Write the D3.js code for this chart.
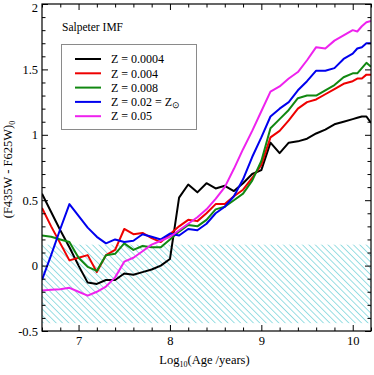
<!DOCTYPE html>
<style>
    body { margin: 0; background: #fff; }
    .axis .domain { display: none; }
    .axis line { stroke: #000; }
</style>
<svg width="374" height="375"></svg>

<script src="https://d3js.org/d3.v7.min.js"></script>
<script>
    // log10(age) grid shared by all curves
    var ages = [6.6, 6.7, 6.8, 6.9, 7.0, 7.1, 7.2, 7.3, 7.4, 7.5, 7.6, 7.7, 7.8, 7.9,
        8.0, 8.1, 8.2, 8.3, 8.4, 8.5, 8.6, 8.7, 8.8, 8.9, 9.0, 9.1, 9.2, 9.3, 9.4,
        9.5, 9.6, 9.7, 9.8, 9.9, 10.0, 10.05, 10.1, 10.15, 10.2];

    var z0004 = [0.55, 0.41, 0.27, 0.14, 0.00, -0.13, -0.14, -0.11, -0.11, -0.06, -0.07, -0.05, -0.03, 0.00,
        0.05, 0.52, 0.62, 0.56, 0.63, 0.59, 0.61, 0.57, 0.63, 0.70, 0.73, 0.94, 0.86, 0.94, 0.95,
        0.97, 1.01, 1.04, 1.08, 1.10, 1.12, 1.13, 1.14, 1.14, 1.09];
    var z004 = [0.44, 0.30, 0.17, 0.04, 0.06, 0.08, -0.05, 0.08, 0.12, 0.28, 0.24, 0.25, 0.21, 0.18,
        0.24, 0.30, 0.35, 0.34, 0.40, 0.47, 0.47, 0.53, 0.58, 0.67, 0.77, 0.98, 1.03, 1.11, 1.20,
        1.25, 1.27, 1.31, 1.35, 1.39, 1.41, 1.43, 1.43, 1.46, 1.46];
    var z008 = [0.23, 0.22, 0.20, 0.18, 0.06, -0.01, -0.04, 0.08, 0.09, 0.17, 0.12, 0.15, 0.14, 0.14,
        0.20, 0.26, 0.31, 0.30, 0.35, 0.43, 0.45, 0.50, 0.55, 0.65, 0.80, 1.05, 1.12, 1.19, 1.28,
        1.30, 1.30, 1.34, 1.38, 1.44, 1.47, 1.47, 1.51, 1.55, 1.52];
    var z02 = [-0.11, 0.08, 0.28, 0.47, 0.38, 0.29, 0.22, 0.17, 0.20, 0.18, 0.19, 0.24, 0.22, 0.20,
        0.245, 0.23, 0.28, 0.27, 0.32, 0.40, 0.45, 0.53, 0.66, 0.83, 0.98, 1.14, 1.20, 1.25, 1.34,
        1.41, 1.49, 1.49, 1.51, 1.58, 1.62, 1.66, 1.67, 1.70, 1.70];
    var z05 = [-0.19, -0.185, -0.18, -0.17, -0.20, -0.23, -0.20, -0.16, -0.09, 0.03, 0.06, 0.11, 0.16, 0.19,
        0.22, 0.27, 0.32, 0.37, 0.43, 0.51, 0.60, 0.74, 0.89, 1.03, 1.18, 1.33, 1.37, 1.43, 1.48,
        1.57, 1.67, 1.66, 1.72, 1.76, 1.80, 1.79, 1.83, 1.86, 1.87];

    var seriesNames = ["Z = 0.0004", "Z = 0.004", "Z = 0.008", "Z = 0.02 = Z", "Z = 0.05"];
    var seriesValues = [z0004, z004, z008, z02, z05];
    var seriesColors = ["#000000", "#ee0000", "#118811", "#0000ee", "#ee22ee"];

    // hatched band (observed colour range)
    var bandTop = 0.16, bandBottom = -0.44;

    var xMajor = [7, 8, 9, 10];
    var yMajor = [-0.5, 0, 0.5, 1, 1.5, 2];

    var serif = "'Liberation Serif', 'Times New Roman', serif";

    var svg = d3.select("svg"),
        margin = { top: 4, right: 3, bottom: 44, left: 42 },
        width = +svg.attr("width") - margin.left - margin.right,
        height = +svg.attr("height") - margin.top - margin.bottom,
        g = svg.append("g").attr("transform", "translate(" + margin.left + "," + margin.top + ")");

    var x = d3.scaleLinear().domain([6.6, 10.2]).range([0, width]);
    var y = d3.scaleLinear().domain([-0.5, 2]).range([height, 0]);

    var xMinor = d3.range(6.6, 10.21, 0.2).filter(function (d) { return Math.abs(d - Math.round(d)) > 0.01; });
    var yMinor = d3.range(-0.5, 2.01, 0.1).filter(function (d) { return Math.abs(d * 2 - Math.round(d * 2)) > 0.01; });

    var defs = svg.append("defs");
    defs.append("clipPath").attr("id", "clip")
        .append("rect").attr("width", width).attr("height", height);

    defs.append("pattern")
        .attr("id", "hatch")
        .attr("patternUnits", "userSpaceOnUse")
        .attr("width", 4.5)
        .attr("height", 4.5)
        .attr("patternTransform", "rotate(-45)")
        .append("line")
        .attr("x1", 0).attr("y1", 0)
        .attr("x2", 0).attr("y2", 4.5)
        .attr("stroke", "#55c8d0")
        .attr("stroke-width", 1.2);

    g.append("rect")
        .attr("x", x(6.6))
        .attr("y", y(bandTop))
        .attr("width", x(10.2) - x(6.6))
        .attr("height", y(bandBottom) - y(bandTop))
        .attr("fill", "url(#hatch)");

    var line = d3.line()
        .x(function (d) { return x(d[0]); })
        .y(function (d) { return y(d[1]); });

    g.append("g")
        .attr("clip-path", "url(#clip)")
        .selectAll("path")
        .data(seriesValues)
        .enter().append("path")
        .attr("fill", "none")
        .attr("stroke", function (d, i) { return seriesColors[i]; })
        .attr("stroke-width", 2)
        .attr("stroke-linejoin", "round")
        .attr("d", function (vals) {
            return line(ages.map(function (a, i) { return [a, vals[i]]; }));
        });

    // axes: ticks point inward on all four sides
    var fmt = function (d) { return String(d); };

    function addAxis(axis, tx, ty) {
        var a = g.append("g").attr("class", "axis")
            .attr("transform", "translate(" + tx + "," + ty + ")")
            .call(axis);
        a.attr("font-family", serif).attr("font-size", 12.5);
        a.selectAll("text").attr("fill", "#000");
        return a;
    }

    addAxis(d3.axisBottom(x).tickValues(xMajor).tickFormat(fmt).tickSizeInner(-6).tickPadding(5), 0, height);
    addAxis(d3.axisBottom(x).tickValues(xMinor).tickFormat("").tickSizeInner(-3.5), 0, height);
    addAxis(d3.axisTop(x).tickValues(xMajor).tickFormat("").tickSizeInner(-6), 0, 0);
    addAxis(d3.axisTop(x).tickValues(xMinor).tickFormat("").tickSizeInner(-3.5), 0, 0);

    var yl = addAxis(d3.axisLeft(y).tickValues(yMajor).tickFormat(fmt).tickSizeInner(-6).tickPadding(4), 0, 0);
    yl.selectAll(".tick text").filter(function (d) { return d === 2; }).attr("dy", "0.6em");
    addAxis(d3.axisLeft(y).tickValues(yMinor).tickFormat("").tickSizeInner(-3.5), 0, 0);
    addAxis(d3.axisRight(y).tickValues(yMajor).tickFormat("").tickSizeInner(-6), width, 0);
    addAxis(d3.axisRight(y).tickValues(yMinor).tickFormat("").tickSizeInner(-3.5), width, 0);

    g.append("rect")
        .attr("width", width)
        .attr("height", height)
        .attr("fill", "none")
        .attr("stroke", "#000")
        .attr("stroke-width", 1.2);

    // axis titles
    var xt = svg.append("text")
        .attr("x", margin.left + width / 2 - 2)
        .attr("y", 364)
        .attr("text-anchor", "middle")
        .attr("font-family", serif)
        .attr("font-size", 12.5);
    xt.append("tspan").text("Log");
    xt.append("tspan").attr("font-size", 8).attr("dy", 3).text("10");
    xt.append("tspan").attr("dy", -3).text("(Age /years)");

    var yt = svg.append("text")
        .attr("transform", "translate(12," + (margin.top + height / 2 + 2) + ") rotate(-90)")
        .attr("text-anchor", "middle")
        .attr("font-family", serif)
        .attr("font-size", 12.5);
    yt.append("tspan").text("(F435W - F625W)");
    yt.append("tspan").attr("font-size", 8).attr("dy", 3).text("0");

    svg.append("text")
        .attr("x", 62)
        .attr("y", 31)
        .attr("font-family", serif)
        .attr("font-size", 11.5)
        .text("Salpeter IMF");

    // legend
    var lg = svg.append("g").attr("font-family", serif).attr("font-size", 12);
    lg.append("rect")
        .attr("x", 61.5).attr("y", 44.5)
        .attr("width", 135).attr("height", 85)
        .attr("fill", "#fff")
        .attr("stroke", "#8a8a8a");

    var item = lg.selectAll("g.item")
        .data(seriesNames)
        .enter().append("g")
        .attr("class", "item")
        .attr("transform", function (d, i) { return "translate(0," + (59 + i * 14.3) + ")"; });

    item.append("line")
        .attr("x1", 75).attr("x2", 101)
        .attr("stroke", function (d, i) { return seriesColors[i]; })
        .attr("stroke-width", 2);

    var lt = item.append("text")
        .attr("x", 111)
        .attr("dy", "0.35em");
    lt.append("tspan").text(function (d) { return d; });
    lt.filter(function (d, i) { return i === 3; })
        .append("tspan")
        .attr("font-size", 9)
        .attr("dy", 2)
        .text("\u2299");
</script>
